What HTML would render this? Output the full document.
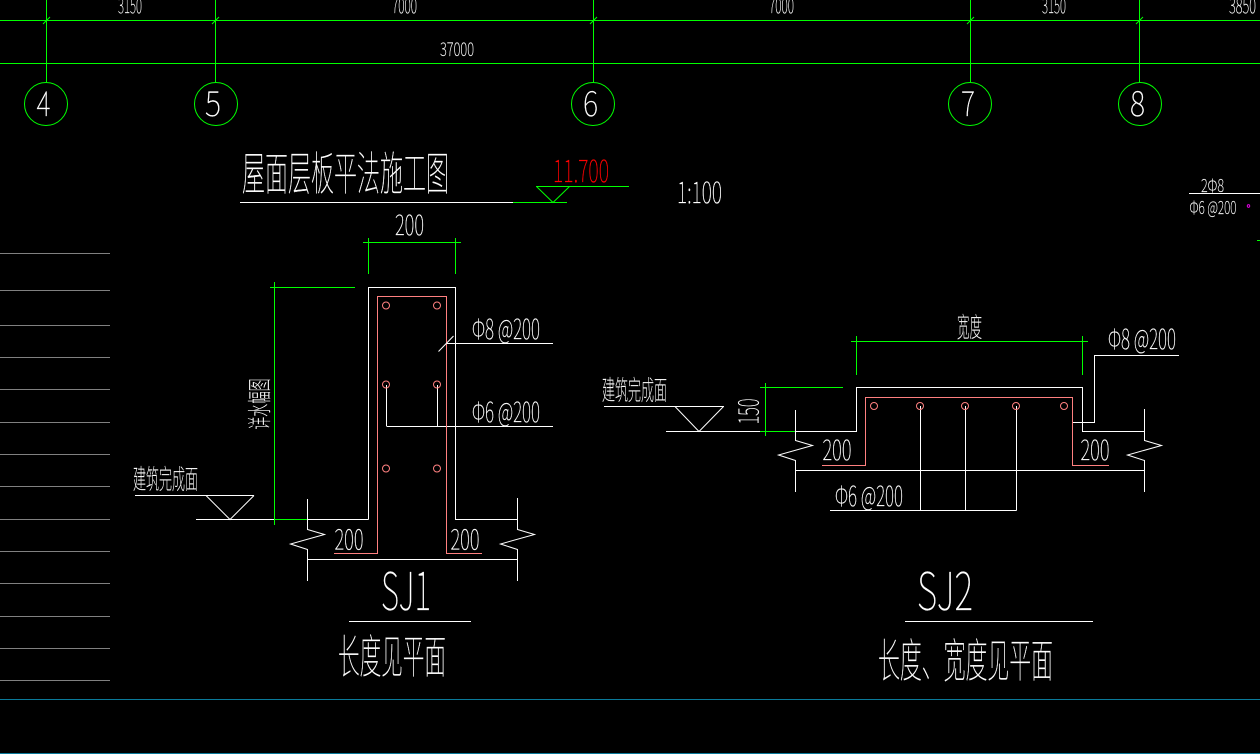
<!DOCTYPE html>
<html lang="zh"><head><meta charset="utf-8"><title>屋面层板平法施工图</title>
<style>
html,body{margin:0;padding:0;background:#000;width:1260px;height:754px;overflow:hidden}
svg{display:block}
.l{fill:none;shape-rendering:crispEdges;stroke-width:1}
.g{stroke:#00ff00}.w{stroke:#fff}.p{stroke:#ff8080}.y{stroke:#808080}.b{stroke:#0a7a9a}
.d{fill:none;stroke-width:1}
text{fill:#fff;stroke:#fff;stroke-width:.2;font-family:"Noto Sans CJK SC","Liberation Sans",sans-serif;font-weight:100}
.c{stroke-width:.3}
</style></head><body>
<svg xmlns="http://www.w3.org/2000/svg" width="1260" height="754" viewBox="0 0 1260 754">
<rect width="1260" height="754" fill="#000"/>

<!-- axes -->
<path class="l g" d="M0 20.5H1260M0 63.5H1260M46.5 0V82M215.5 0V82M593.5 0V82M970.5 0V82M1139.5 0V82"/>
<g class="d g">
<path d="M43 24L50 17M212 24L219 17M590 24L597 17M967 24L974 17M1136 24L1143 17M1257 240.5H1260"/>
<circle cx="46" cy="104" r="21.5"/><circle cx="216" cy="104" r="21.5"/><circle cx="593" cy="104" r="21.5"/><circle cx="970" cy="104" r="21.5"/><circle cx="1140" cy="104" r="21.5"/>
</g>

<!-- left ticks, bottom rules -->
<path class="l y" d="M0 253.5H110M0 290.5H110M0 325.5H110M0 357.5H110M0 389.5H110M0 422.5H110M0 454.5H110M0 486.5H110M0 519.5H110M0 551.5H110M0 583.5H110M0 616.5H110M0 648.5H110M0 680.5H110"/>
<path class="l b" d="M0 699.5H1260M0 753.5H1260"/>

<!-- title -->
<path class="l w" d="M240 202.5H513"/>
<path class="l g" d="M513 202.5H567M536 186.5H629"/>
<path class="d g" d="M536.5 186.5L553 202.5L569.5 186.5"/>

<!-- SJ1 geometry -->
<path class="l g" d="M363 242.5H461M368.5 238V274M455.5 238V274M270 287.5H355M274.5 282V525M274 519.5H307"/>
<path class="l w" d="M368.5 519.5V287.5H455.5V519.5H517.5M196 519.5H274M307 519.5H368.5M307.5 559.5H517.5M446 343.5H553M386.5 426.5H553M386.5 385V426M437.5 385V426M349 621.5H471M135 495.5H254"/>
<path class="l p" d="M334 553.5H377.5V296.5H446.5V553.5H482"/>
<g class="d w">
<path d="M438.5 351.5L453.5 336M206 495.5L230 519.5L254 495.5"/>
<path d="M307.5 499V529.5L324.5 534.5L290.5 544L307.5 549.5V581"/>
<path d="M517.5 498V529.5L534.5 534.5L500.5 544L517.5 549.5V581"/>
</g>
<g class="d p">
<circle cx="386" cy="305.5" r="3.5"/><circle cx="437" cy="305.5" r="3.5"/>
<circle cx="386" cy="384.5" r="3.5"/><circle cx="437" cy="384.5" r="3.5"/>
<circle cx="386" cy="468.5" r="3.5"/><circle cx="437" cy="468.5" r="3.5"/>
</g>

<!-- SJ2 geometry -->
<path class="l g" d="M851 341.5H1088M856.5 336V375M1082.5 336V375M760 387.5H843M765.5 383V436M760 431.5H795"/>
<path class="l w" d="M666 431.5H760M795 431.5H856.5V387.5H1082.5V431.5H1144.5M795.5 470.5H1144.5M920.5 406V510.5M965.5 406V510.5M1016.5 406V510.5M830 510.5H1016.5M1072.5 422.5H1094.5V355.5H1179M905 621.5H1093M604 406.5H724"/>
<path class="l p" d="M822 465.5H865.5V397.5H1072.5V465.5H1109"/>
<g class="d w">
<path d="M675 406.5L699 431.5L723.5 406.5"/>
<path d="M795.5 410V440.5L812.5 445.5L778.5 455L795.5 460.5V492"/>
<path d="M1144.5 409V440.5L1161.5 445.5L1127.5 455L1144.5 460.5V492"/>
</g>
<g class="d p">
<circle cx="874" cy="406" r="3.5"/><circle cx="920" cy="406" r="3.5"/><circle cx="965" cy="406" r="3.5"/><circle cx="1016" cy="406" r="3.5"/><circle cx="1064" cy="406" r="3.5"/>
</g>

<!-- right fragment -->
<path class="l w" d="M1189 193.5H1260"/>
<circle cx="1248.5" cy="206" r="1.3" fill="none" stroke="#ff00ff" stroke-width=".8"/>

<!-- text -->
<g>
<text x="118" y="13" font-size="20" textLength="24" lengthAdjust="spacingAndGlyphs">3150</text>
<text x="392" y="13" font-size="20" textLength="25" lengthAdjust="spacingAndGlyphs">7000</text>
<text x="769" y="13" font-size="20" textLength="25" lengthAdjust="spacingAndGlyphs">7000</text>
<text x="1042" y="13" font-size="20" textLength="24" lengthAdjust="spacingAndGlyphs">3150</text>
<text x="1229" y="13" font-size="20" textLength="27" lengthAdjust="spacingAndGlyphs">3850</text>
<text x="440" y="56" font-size="18.5" textLength="34" lengthAdjust="spacingAndGlyphs">37000</text>

<text x="36.5" y="116" font-size="34" textLength="14" lengthAdjust="spacingAndGlyphs">4</text>
<text x="205" y="116" font-size="34" textLength="16" lengthAdjust="spacingAndGlyphs">5</text>
<text x="583" y="116" font-size="34" textLength="15" lengthAdjust="spacingAndGlyphs">6</text>
<text x="961" y="116" font-size="34" textLength="14" lengthAdjust="spacingAndGlyphs">7</text>
<text x="1130" y="116" font-size="34" textLength="15" lengthAdjust="spacingAndGlyphs">8</text>

<text class="c" x="242" y="190" font-size="46" textLength="207" lengthAdjust="spacingAndGlyphs">屋面层板平法施工图</text>
<text x="553" y="182" font-size="30" textLength="56" lengthAdjust="spacingAndGlyphs" style="fill:#ff0000;stroke:#ff0000">11.700</text>
<text x="677" y="203" font-size="29" textLength="45" lengthAdjust="spacingAndGlyphs">1:100</text>

<text x="1201" y="192" font-size="18" textLength="23" lengthAdjust="spacingAndGlyphs">2Φ8</text>
<text x="1189.5" y="214" font-size="18" textLength="47" lengthAdjust="spacingAndGlyphs">Φ6 @200</text>

<!-- SJ1 text -->
<text x="395" y="235" font-size="27.5" textLength="29" lengthAdjust="spacingAndGlyphs">200</text>
<text x="472" y="339" font-size="27.5" textLength="68" lengthAdjust="spacingAndGlyphs">Φ8 @200</text>
<text x="472" y="422" font-size="27.5" textLength="68" lengthAdjust="spacingAndGlyphs">Φ6 @200</text>
<text x="334.5" y="549.5" font-size="27.5" textLength="29" lengthAdjust="spacingAndGlyphs">200</text>
<text x="450.5" y="549.5" font-size="27.5" textLength="29" lengthAdjust="spacingAndGlyphs">200</text>
<text x="381" y="610" font-size="52" textLength="50" lengthAdjust="spacingAndGlyphs">SJ1</text>
<text class="c" x="338" y="673" font-size="46" textLength="108" lengthAdjust="spacingAndGlyphs">长度见平面</text>
<text class="c" x="133" y="489" font-size="27" textLength="65" lengthAdjust="spacingAndGlyphs">建筑完成面</text>
<text class="c" transform="translate(268 429.5) rotate(-90)" font-size="24" textLength="51" lengthAdjust="spacingAndGlyphs">详水幅图</text>

<!-- SJ2 text -->
<text class="c" x="957" y="337" font-size="27" textLength="25" lengthAdjust="spacingAndGlyphs">宽度</text>
<text x="1108" y="349" font-size="27.5" textLength="68" lengthAdjust="spacingAndGlyphs">Φ8 @200</text>
<text class="c" x="602" y="400" font-size="27" textLength="65" lengthAdjust="spacingAndGlyphs">建筑完成面</text>
<text transform="translate(758.5 424.5) rotate(-90)" font-size="27.5" textLength="26" lengthAdjust="spacingAndGlyphs">150</text>
<text x="822.5" y="460" font-size="27.5" textLength="29" lengthAdjust="spacingAndGlyphs">200</text>
<text x="1080.5" y="460" font-size="27.5" textLength="29" lengthAdjust="spacingAndGlyphs">200</text>
<text x="835" y="506" font-size="27.5" textLength="68" lengthAdjust="spacingAndGlyphs">Φ6 @200</text>
<text x="917" y="610" font-size="52" textLength="56" lengthAdjust="spacingAndGlyphs">SJ2</text>
<text class="c" x="878" y="677" font-size="46" textLength="175" lengthAdjust="spacingAndGlyphs">长度、宽度见平面</text>
</g>
</svg>
</body></html>
